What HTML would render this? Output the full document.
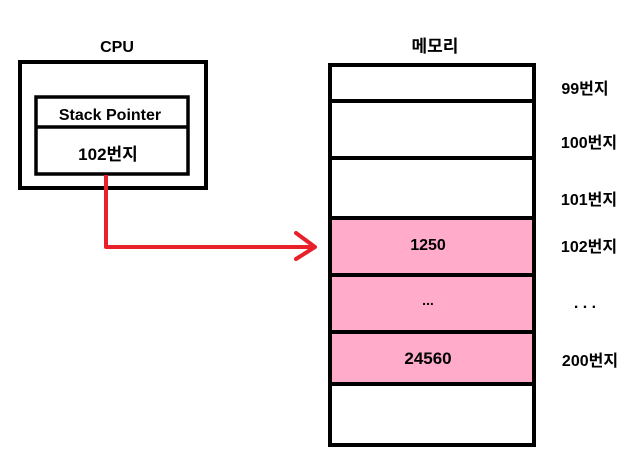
<!DOCTYPE html>
<html><head><meta charset="utf-8"><style>
html,body{margin:0;padding:0;background:#fff;}
svg{display:block}
text{font-family:"Liberation Sans","Noto Sans CJK KR",sans-serif;font-weight:bold;fill:#000;text-anchor:middle;}
</style></head><body>
<svg width="644" height="461" viewBox="0 0 644 461">
<text x="117" y="52" font-size="16">CPU</text>
<rect x="20" y="62" width="186" height="126" fill="#fff" stroke="#000" stroke-width="4"/>
<rect x="36" y="97" width="152" height="77" fill="#fff" stroke="#000" stroke-width="3.5"/>
<line x1="36" y1="127" x2="188" y2="127" stroke="#000" stroke-width="3.5"/>
<text x="110" y="120" font-size="16">Stack Pointer</text>
<text x="108" y="160" font-size="17">102번지</text>
<polyline points="106,175 106,247 314,247" fill="none" stroke="#e8202a" stroke-width="4" stroke-linejoin="round"/>
<polyline points="296,233 315,247 296,259" fill="none" stroke="#e8202a" stroke-width="4" stroke-linecap="round" stroke-linejoin="round"/>
<text x="435" y="52" font-size="17">메모리</text>
<rect x="330" y="218" width="204" height="166" fill="#ffabc9"/>
<rect x="330" y="65" width="204" height="380" fill="none" stroke="#000" stroke-width="4"/>
<g stroke="#000" stroke-width="4">
<line x1="330" y1="101" x2="536" y2="101"/>
<line x1="330" y1="158" x2="536" y2="158"/>
<line x1="330" y1="218" x2="536" y2="218"/>
<line x1="330" y1="275" x2="536" y2="275"/>
<line x1="330" y1="332" x2="536" y2="332"/>
<line x1="330" y1="384" x2="536" y2="384"/>
</g>
<text x="428" y="250" font-size="16">1250</text>
<text x="428" y="305" font-size="14">...</text>
<text x="428" y="364" font-size="17">24560</text>
<g font-size="16">
<text x="585" y="94">99번지</text>
<text x="589" y="148">100번지</text>
<text x="589" y="205">101번지</text>
<text x="589" y="252">102번지</text>
<text x="585" y="308" font-size="16">. . .</text>
<text x="590" y="366">200번지</text>
</g>
</svg>
</body></html>
